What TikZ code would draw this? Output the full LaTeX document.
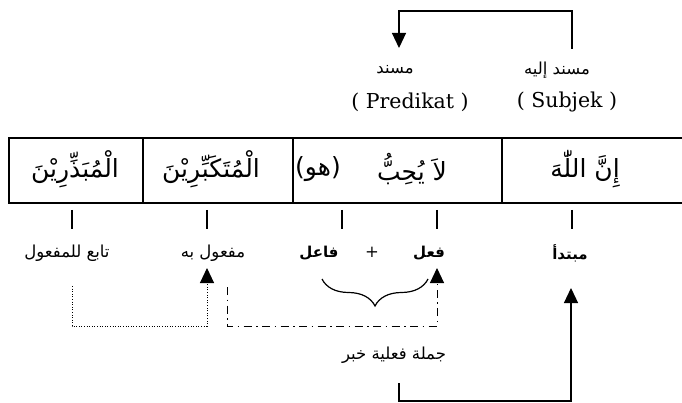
\documentclass[tikz,border=0pt]{standalone}
\usepackage{fontspec}
\setmainfont{DejaVu Serif}
\newfontfamily\arabicfont[Script=Arabic]{DejaVu Sans}
\TeXXeTstate=1
\usetikzlibrary{arrows.meta,decorations.pathreplacing}
\newcommand{\artext}[1]{{\arabicfont\beginR #1\endR}}

\begin{document}
\begin{tikzpicture}[x=1pt,y=-1pt,
    word/.style={inner sep=0pt,font=\fontsize{25}{30}\selectfont},
    lbl/.style={inner sep=0pt,font=\fontsize{16.5}{20}\selectfont},
    bold/.style={inner sep=0pt,font=\fontsize{15}{18}\selectfont\bfseries},
    lat/.style={inner sep=0pt,font=\fontsize{20.5}{24}\selectfont},
    frame/.style={line width=2pt},
    conn/.style={line width=1.2pt},
    tip/.style={-{Triangle[length=15pt,width=14pt]}}]
        \useasboundingbox (0,0) rectangle (682,403);

        %Frame of the sentence
        \draw [frame] (9,138) rectangle (686,203);
        \draw [frame] (143,138) -- (143,203);
        \draw [frame] (293,138) -- (293,203);
        \draw [frame] (502,138) -- (502,203);

        % Text Node
        \node [word] (mubadh) at (75,169) {\artext{الْمُبَذِّرِيْنَ}};
        % Text Node
        \node [word] (mutak) at (211,169) {\artext{الْمُتَكَبِّرِيْنَ}};
        % Text Node
        \node [word] (huwa) at (318,169) {\artext{(هو)}};
        % Text Node
        \node [word] (yuhibb) at (412,169) {\artext{لاَ يُحِبُّ}};
        % Text Node
        \node [word] (innal) at (585,169) {\artext{إِنَّ  اللّٰهَ}};

        % Text Node
        \node [lbl] (musnad) at (395,70) {\artext{مسند}};
        % Text Node
        \node [lbl] (musnadil) at (557,70) {\artext{مسند إليه}};
        % Text Node
        \node [lat] (pred) at (410,102) {( Predikat )};
        % Text Node
        \node [lat] (subj) at (567,102) {( Subjek )};

        % Text Node
        \node [lbl] (tabi) at (67,253) {\artext{تابع للمفعول}};
        % Text Node
        \node [lbl] (mafool) at (213,253) {\artext{مفعول به}};
        % Text Node
        \node [bold] (fail) at (319,253) {\artext{فاعل}};
        % Text Node
        \node [lbl] (plus) at (372,252) {+};
        % Text Node
        \node [bold] (fil) at (429,253) {\artext{فعل}};
        % Text Node
        \node [bold] (mubtada) at (570,253) {\artext{مبتدأ}};
        % Text Node
        \node [lbl] (khabar) at (394,355) {\artext{جملة فعلية  خبر}};

        %Ticks under the frame
        \foreach \x/\n in {72/a,207/b,342/c,437/d,572/e} {
            \coordinate (up\n) at (\x,210);
            \coordinate (dn\n) at (\x,229);
            \draw [conn] (up\n) -- (dn\n);
        }

        %Musnad ilaih to musnad
        \coordinate (subjtop) at (572,49);
        \coordinate (bendtop) at (399,11);
        \coordinate (predtop) at (399,48);
        \draw [conn,tip] (subjtop) |- (bendtop) -- (predtop);

        %Dotted line to maf'ul bih
        \coordinate (tabifoot) at (72,286);
        \coordinate (mafhead) at (207,268);
        \draw [line width=1pt,dash pattern=on 1pt off 1.6pt,tip] (tabifoot) |- (140,326) -| (mafhead);

        %Dash-dot line to fi'l
        \coordinate (jumfoot) at (227,287);
        \coordinate (filhead) at (437,268);
        \draw [line width=1pt,dash pattern=on 8pt off 4.5pt on 1.5pt off 4.5pt,tip] (jumfoot) |- (330,326) -| (filhead);

        %Brace under fi'l and fa'il
        \coordinate (brl) at (322,279);
        \coordinate (brr) at (428,279);
        \draw [conn,decorate,decoration={brace,mirror,amplitude=27pt}] (brl) -- (brr);

        %Khabar to mubtada
        \coordinate (khfoot) at (399,383);
        \coordinate (mubhead) at (571,288);
        \draw [conn,tip] (khfoot) |- (480,401) -| (mubhead);

\end{tikzpicture}
\end{document}
